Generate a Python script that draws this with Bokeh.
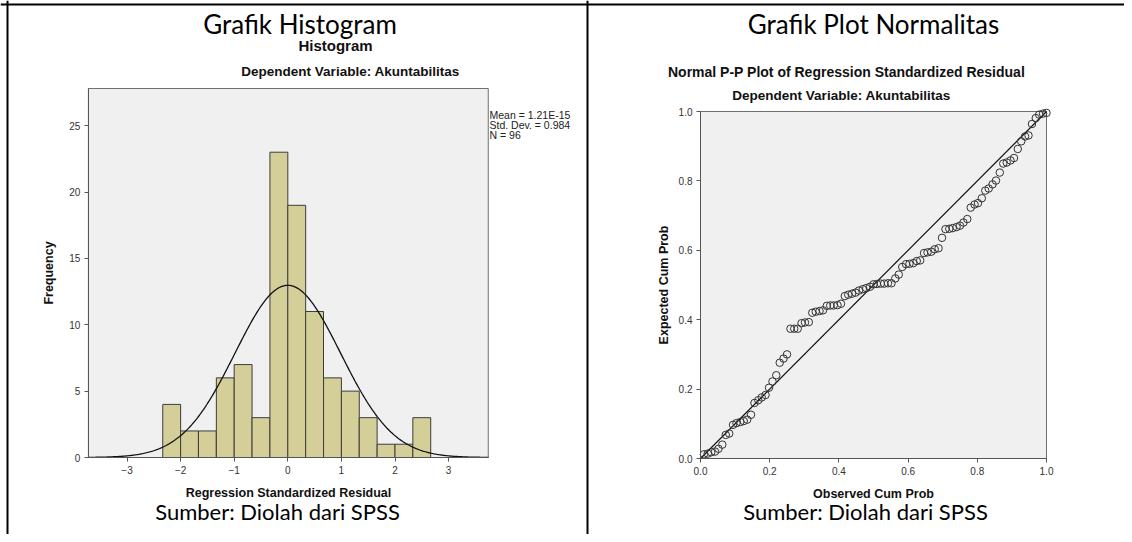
import numpy as np
from bokeh.plotting import figure
from bokeh.models import Label, Range1d, FixedTicker, NumeralTickFormatter, LinearAxis, Span
from bokeh.embed import file_html
from bokeh.resources import INLINE

# ---------------- data ----------------
bin_starts = [-2.333, -2.0, -1.667, -1.333, -1.0, -0.667, -0.333, 0.0,
              0.333, 0.667, 1.0, 1.333, 1.667, 2.0, 2.333]
bin_width = 0.3333
counts = [4, 2, 2, 6, 7, 3, 23, 19, 11, 6, 5, 3, 1, 1, 3]
resid_mean = 1.21e-15
resid_sd = 0.984
n_cases = 96
hist_xticks = [-3, -2, -1, 0, 1, 2, 3]
hist_yticks = [0, 5, 10, 15, 20, 25]
hist_xlim = (-3.72, 3.74)
hist_ylim = (0, 27.8)

observed_cum = [0.010, 0.021, 0.031, 0.042, 0.052, 0.063, 0.073, 0.083, 0.094, 0.104,
                0.115, 0.125, 0.135, 0.146, 0.156, 0.167, 0.177, 0.188, 0.198, 0.208,
                0.219, 0.229, 0.240, 0.250, 0.260, 0.271, 0.281, 0.292, 0.302, 0.313,
                0.323, 0.333, 0.344, 0.354, 0.365, 0.375, 0.385, 0.396, 0.406, 0.417,
                0.427, 0.438, 0.448, 0.458, 0.469, 0.479, 0.490, 0.500, 0.510, 0.521,
                0.531, 0.542, 0.552, 0.563, 0.573, 0.583, 0.594, 0.604, 0.615, 0.625,
                0.635, 0.646, 0.656, 0.667, 0.677, 0.688, 0.698, 0.708, 0.719, 0.729,
                0.740, 0.750, 0.760, 0.771, 0.781, 0.792, 0.802, 0.813, 0.823, 0.833,
                0.844, 0.854, 0.865, 0.875, 0.885, 0.896, 0.906, 0.917, 0.927, 0.938,
                0.948, 0.958, 0.969, 0.979, 0.990, 1.000]
expected_cum = [0.012, 0.014, 0.018, 0.020, 0.028, 0.040, 0.068, 0.072, 0.097, 0.102,
                0.105, 0.108, 0.112, 0.126, 0.160, 0.168, 0.176, 0.183, 0.204, 0.222,
                0.240, 0.276, 0.288, 0.300, 0.374, 0.374, 0.374, 0.390, 0.392, 0.393,
                0.420, 0.423, 0.425, 0.427, 0.440, 0.441, 0.441, 0.442, 0.446, 0.468,
                0.472, 0.475, 0.478, 0.484, 0.488, 0.491, 0.495, 0.502, 0.503, 0.504,
                0.504, 0.505, 0.505, 0.519, 0.530, 0.552, 0.560, 0.561, 0.563, 0.569,
                0.571, 0.592, 0.594, 0.596, 0.603, 0.606, 0.636, 0.661, 0.662, 0.664,
                0.667, 0.671, 0.680, 0.690, 0.723, 0.732, 0.736, 0.750, 0.772, 0.778,
                0.790, 0.801, 0.824, 0.850, 0.853, 0.859, 0.866, 0.892, 0.914, 0.928,
                0.931, 0.964, 0.981, 0.991, 0.994, 0.996]
pp_ticks = [0.0, 0.2, 0.4, 0.6, 0.8, 1.0]

# ---------------- styles ----------------
SPSS_FONT = "Liberation Sans"
CAL_FONT = "Lato"
FRAME_BG = "#F0F0F0"
BAR_FILL = "#D4CF98"
AX_COL = "#555555"

# canvas geometry (canvas pixels)
W, H = 1124, 534
X0, Y0 = 0, 0
H_T, H_B = 88.0, 457.0
H_ZERO = 287.3
H_UX = 53.6
H_UY = (H_B - H_T) / hist_ylim[1]
P_L, P_R, P_T, P_B = 700.0, 1046.0, 111.0, 458.0


def rng_x(zero_px, px_per_unit):
    return Range1d((X0 - zero_px) / px_per_unit, (X0 + W - zero_px) / px_per_unit)


def rng_y(zero_px, px_per_unit):
    return Range1d((zero_px - (Y0 + H)) / px_per_unit, (zero_px - Y0) / px_per_unit)


p = figure(width=W, height=H, output_backend="svg", toolbar_location=None,
           x_axis_type=None, y_axis_type=None,
           x_range=Range1d(X0, X0 + W), y_range=Range1d(Y0 + H, Y0),
           min_border=0, min_border_left=0, min_border_right=0,
           min_border_top=0, min_border_bottom=0)
p.outline_line_color = None
p.grid.visible = False
p.background_fill_color = "white"
p.border_fill_color = "white"

p.extra_x_ranges = {"hx": rng_x(H_ZERO, H_UX), "px": rng_x(P_L, P_R - P_L)}
p.extra_y_ranges = {"hy": rng_y(H_B, H_UY), "py": rng_y(P_B, P_B - P_T)}

# ---------------- histogram ----------------
p.quad(left=hist_xlim[0], right=hist_xlim[1], bottom=hist_ylim[0], top=hist_ylim[1],
       x_range_name="hx", y_range_name="hy",
       fill_color=FRAME_BG, line_color="#6f6f6f", line_width=1)
lefts = np.array(bin_starts)
p.quad(left=lefts, right=lefts + bin_width, bottom=0, top=counts,
       x_range_name="hx", y_range_name="hy",
       fill_color=BAR_FILL, line_color="#3c3c3c", line_width=1)
xs = np.linspace(hist_xlim[0], hist_xlim[1], 400)
ys = n_cases * bin_width * np.exp(-0.5 * ((xs - resid_mean) / resid_sd) ** 2) / (resid_sd * np.sqrt(2 * np.pi))
p.line(xs, ys, x_range_name="hx", y_range_name="hy", line_color="#111111", line_width=1.3)

# ---------------- P-P plot ----------------
p.quad(left=0, right=1, bottom=0, top=1, x_range_name="px", y_range_name="py",
       fill_color=FRAME_BG, line_color="#6f6f6f", line_width=1)
p.line([0, 1], [0, 1], x_range_name="px", y_range_name="py", line_color="#111111", line_width=1.2)
p.scatter(observed_cum, expected_cum, x_range_name="px", y_range_name="py",
          marker="circle", size=7.5, fill_color=None, line_color="#333333", line_width=1)


def style_axis(ax):
    ax.axis_line_color = AX_COL
    ax.major_tick_line_color = AX_COL
    ax.major_tick_out = 4
    ax.major_tick_in = 0
    ax.minor_tick_line_color = None
    ax.major_label_text_font = SPSS_FONT
    ax.major_label_text_font_size = "10px"
    ax.major_label_text_color = "#333333"
    ax.axis_label_text_font = SPSS_FONT
    ax.axis_label_text_font_size = "12.5px"
    ax.axis_label_text_font_style = "bold"
    ax.axis_label_text_color = "#111111"
    ax.major_label_standoff = 4


hx_axis = LinearAxis(x_range_name="hx", y_range_name="hy", fixed_location=0,
                     bounds=hist_xlim, ticker=FixedTicker(ticks=hist_xticks),
                     axis_label="Regression Standardized Residual", axis_label_standoff=9)
hy_axis = LinearAxis(x_range_name="hx", y_range_name="hy", fixed_location=hist_xlim[0],
                     bounds=hist_ylim, ticker=FixedTicker(ticks=hist_yticks),
                     axis_label="Frequency", axis_label_standoff=10)
px_axis = LinearAxis(x_range_name="px", y_range_name="py", fixed_location=0,
                     bounds=(0, 1), ticker=FixedTicker(ticks=pp_ticks),
                     formatter=NumeralTickFormatter(format="0.0"),
                     axis_label="Observed Cum Prob", axis_label_standoff=9)
py_axis = LinearAxis(x_range_name="px", y_range_name="py", fixed_location=0,
                     bounds=(0, 1), ticker=FixedTicker(ticks=pp_ticks),
                     formatter=NumeralTickFormatter(format="0.0"),
                     axis_label="Expected Cum Prob", axis_label_standoff=5)
for ax in (hx_axis, hy_axis, px_axis, py_axis):
    style_axis(ax)
p.add_layout(hx_axis, "below")
p.add_layout(px_axis, "below")
p.add_layout(hy_axis, "left")
p.add_layout(py_axis, "left")


# ---------------- texts (canvas px) ----------------
def lab(x, y, text, font, size, bold=False, align="center", color="#111111"):
    p.add_layout(Label(x=x, y=y, text=text, text_font=font, text_font_size=size,
                       text_font_style="bold" if bold else "normal",
                       text_align=align, text_baseline="middle", text_color=color))


lab(299.5, 23.5, "Grafik Histogram", CAL_FONT, "26px", color="#000000")
lab(335, 44.5, "Histogram", SPSS_FONT, "15px", bold=True)
lab(350, 70.5, "Dependent Variable: Akuntabilitas", SPSS_FONT, "13.5px", bold=True)
lab(489, 114, "Mean = 1.21E-15", SPSS_FONT, "10.5px", align="left", color="#222222")
lab(489, 124, "Std. Dev. = 0.984", SPSS_FONT, "10.5px", align="left", color="#222222")
lab(489, 134, "N = " + str(n_cases), SPSS_FONT, "10.5px", align="left", color="#222222")
lab(277, 511, "Sumber: Diolah dari SPSS", CAL_FONT, "22px", color="#000000")

lab(873, 23.5, "Grafik Plot Normalitas", CAL_FONT, "26px", color="#000000")
lab(846, 71, "Normal P-P Plot of Regression Standardized Residual", SPSS_FONT, "14px", bold=True)
lab(841, 95, "Dependent Variable: Akuntabilitas", SPSS_FONT, "13.5px", bold=True)
lab(865, 511, "Sumber: Diolah dari SPSS", CAL_FONT, "22px", color="#000000")

# ---------------- table borders ----------------
p.add_layout(Span(location=4, dimension="width", line_color="black", line_width=2))
p.add_layout(Span(location=7, dimension="height", line_color="black", line_width=2))
p.add_layout(Span(location=587, dimension="height", line_color="black", line_width=2))

open("out.html", "w").write(file_html(p, INLINE))
